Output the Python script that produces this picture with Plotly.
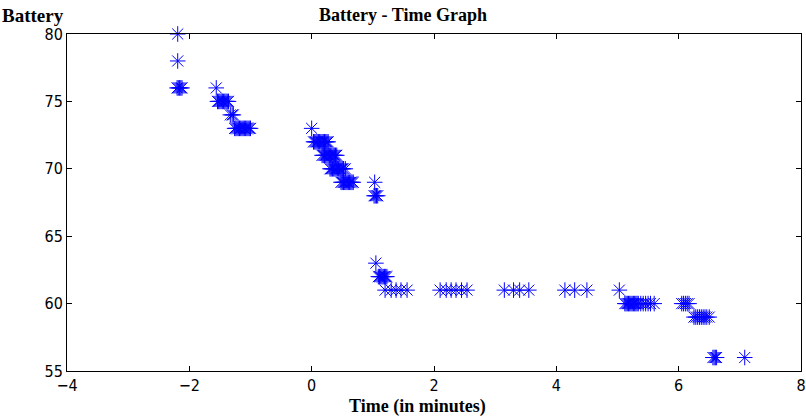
import plotly.graph_objects as go

# Time (minutes) and battery level readings, grouped by battery row
time_min = [
    -2.19,                                   # 80
    -2.19,                                   # 78
    -2.20, -2.18, -2.16, -2.14, -2.12,       # 76
    -1.56,                                   # 76
    -1.54, -1.52, -1.50, -1.48, -1.46, -1.44, -1.42, -1.40, -1.38, -1.36,   # 75
    -1.33, -1.30, -1.28,                     # 74
    -1.26, -1.24, -1.22, -1.20, -1.18, -1.16, -1.14, -1.12, -1.10,
    -1.08, -1.06, -1.04, -1.02, -1.00,       # 73
    0.00,                                    # 73
    0.03, 0.05, 0.07, 0.09, 0.11, 0.13, 0.15, 0.17, 0.19, 0.21, 0.23, 0.25, 0.27,   # 72
    0.17, 0.19, 0.21, 0.23, 0.25, 0.27, 0.29, 0.31, 0.33, 0.35, 0.37, 0.39, 0.41,   # 71
    0.30, 0.32, 0.34, 0.36, 0.38, 0.40, 0.42, 0.44, 0.46, 0.48, 0.50, 0.52, 0.55,   # 70
    0.48, 0.50, 0.52, 0.54, 0.56, 0.58, 0.60, 0.62, 0.64, 0.66, 0.68,   # 69
    1.03,                                    # 69
    1.02, 1.04, 1.06, 1.08,                  # 68
    1.05,                                    # 63
    1.09, 1.11, 1.13, 1.15, 1.17, 1.19, 1.21, 1.23,   # 62
    1.20, 1.30, 1.38, 1.46, 1.56,            # 61
    2.10, 2.20, 2.28, 2.36, 2.45, 2.54,      # 61
    3.15, 3.30, 3.40, 3.55,                  # 61
    4.14, 4.30, 4.50,                        # 61
    5.03,                                    # 61
    5.12, 5.14, 5.16, 5.18, 5.20, 5.22, 5.24, 5.26, 5.28, 5.30, 5.32, 5.34,
    5.38, 5.42, 5.46, 5.50, 5.54, 5.60,      # 60
    6.05, 6.08, 6.11, 6.14, 6.17,            # 60
    6.25, 6.28, 6.31, 6.34, 6.37, 6.40, 6.43, 6.46, 6.50,   # 59
    6.56, 6.58, 6.60, 6.62,                  # 56
    7.08,                                    # 56
]
battery = (
    [80] + [78] + [76] * 5 + [76] + [75] * 10 + [74] * 3 + [73] * 14 + [73]
    + [72] * 13 + [71] * 13 + [70] * 13 + [69] * 11 + [69] + [68] * 4 + [63]
    + [62] * 8 + [61] * 5 + [61] * 6 + [61] * 4 + [61] * 3 + [61]
    + [60] * 18 + [60] * 5 + [59] * 9 + [56] * 4 + [56]
)

x_ticks = [-4, -2, 0, 2, 4, 6, 8]
y_ticks = [55, 60, 65, 70, 75, 80]

tick_font = dict(family="DejaVu Sans Condensed, Liberation Sans Narrow, Arial Narrow, Liberation Sans",
                 size=16, color="black")
serif = "Liberation Serif, Times New Roman, serif"

fig = go.Figure()
fig.add_trace(go.Scatter(
    x=time_min, y=battery, mode="markers",
    marker=dict(symbol="asterisk-open", size=13, color="#0000ff",
                line=dict(color="#0000ff", width=1)),
    cliponaxis=False,
    showlegend=False,
))

fig.update_layout(
    width=806, height=416,
    margin=dict(l=67, r=5, t=34, b=45),
    paper_bgcolor="white", plot_bgcolor="white",
    title=dict(text="<b>Battery - Time Graph</b>", x=0.5, xanchor="center",
               y=0.964, yanchor="middle", font=dict(family=serif, size=18, color="black"),
               automargin=False),
    xaxis=dict(range=[-4, 8], tickvals=x_ticks, ticks="inside", ticklen=5,
               tickcolor="black", showline=True, linecolor="black", linewidth=1,
               mirror="ticks", showgrid=False, zeroline=False, tickfont=tick_font,
               automargin=False),
    yaxis=dict(range=[55, 80], tickvals=y_ticks, ticks="inside", ticklen=5,
               tickcolor="black", showline=True, linecolor="black", linewidth=1,
               mirror="ticks", showgrid=False, zeroline=False, tickfont=tick_font,
               automargin=False),
    annotations=[
        dict(text="<b>Battery</b>", xref="paper", yref="paper",
             x=0, y=1, xanchor="right", yanchor="bottom",
             xshift=-1, yshift=6, showarrow=False,
             font=dict(family=serif, size=19, color="black")),
        dict(text="<b>Time (in minutes)</b>", xref="paper", yref="paper",
             x=0.478, y=0, xanchor="center", yanchor="top",
             yshift=-23, showarrow=False,
             font=dict(family=serif, size=18, color="black")),
    ],
)

fig.write_html("out.html", config={"displayModeBar": False},
               post_script="document.body.style.margin='0';document.body.style.overflow='hidden';")
